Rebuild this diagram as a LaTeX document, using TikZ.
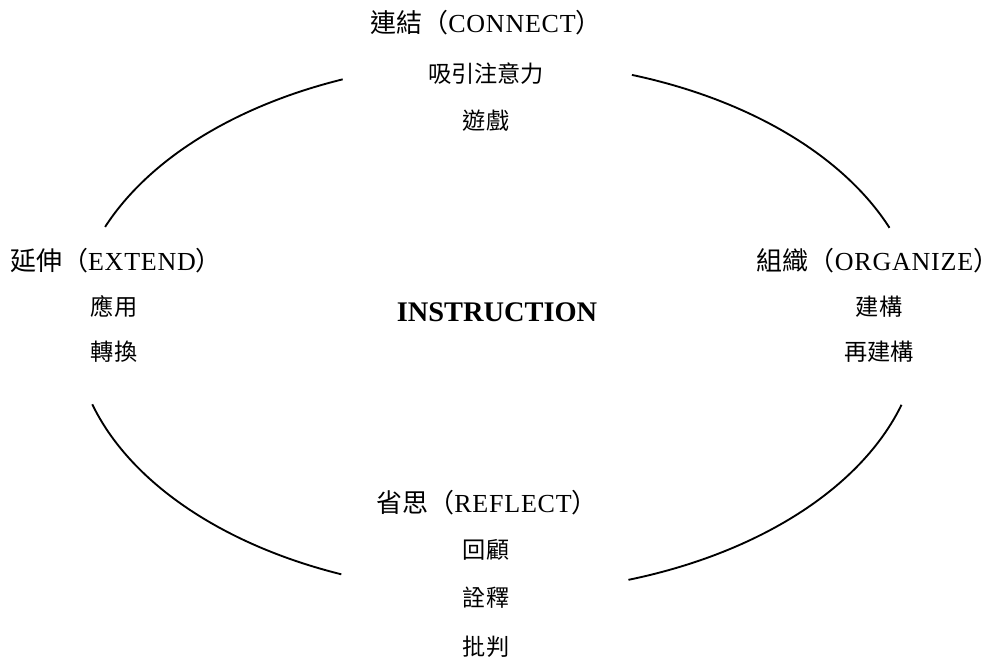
\documentclass[tikz,border=0pt]{standalone}
\usepackage{fontspec}
\setmainfont{Liberation Serif}
\newfontfamily\cjk{Noto Sans CJK TC}
\newfontfamily\latsp[LetterSpace=3]{Liberation Serif}
\begin{document}
\begin{tikzpicture}[x=0.75pt,y=0.75pt,
  ttl/.style={font=\fontsize{19.5}{22}\selectfont, inner sep=0pt},
  itm/.style={font=\fontsize{17.4}{20}\selectfont\cjk, inner sep=0pt},
  arcline/.style={line width=1.4pt}]
\useasboundingbox (0,0) rectangle (998,658);
\coordinate (c) at (497,331);
% arcs
\draw[arcline] (c) ++(157.9:423 and 266) arc[start angle=157.9, end angle=111.4, x radius=423, y radius=266];
\draw[arcline] (c) ++(71.4:423 and 266) arc[start angle=71.4, end angle=21.9, x radius=423, y radius=266];
\draw[arcline] (c) ++(-17:423 and 266) arc[start angle=-17, end angle=-71.9, x radius=423, y radius=266];
\draw[arcline] (c) ++(248.4:423 and 266) arc[start angle=248.4, end angle=196.9, x radius=423, y radius=266];
% top
\node[ttl] (connect) at (486,635) {{\cjk 連結（}{\latsp CONNECT}{\cjk ）}};
\node[itm] (c1) at (486,584) {吸引注意力};
\node[itm] (c2) at (486,537) {遊戲};
% left
\node[ttl] (extend) at (116,397) {{\cjk 延伸（}{\latsp EXTEND}{\cjk ）}};
\node[itm] (e1) at (114,351) {應用};
\node[itm] (e2) at (114,306) {轉換};
% right
\node[ttl] (organize) at (878,397) {{\cjk 組織（}{\latsp ORGANIZE}{\cjk ）}};
\node[itm] (o1) at (879,351) {建構};
\node[itm] (o2) at (879,306) {再建構};
% bottom
\node[ttl] (reflect) at (487,155) {{\cjk 省思（}{\latsp REFLECT}{\cjk ）}};
\node[itm] (r1) at (486,108) {回顧};
\node[itm] (r2) at (486,60) {詮釋};
\node[itm] (r3) at (486,11) {批判};
% center
\node[font=\fontsize{21.3}{24}\selectfont\bfseries, inner sep=0pt] (instr) at (497,346) {INSTRUCTION};
\end{tikzpicture}
\end{document}
